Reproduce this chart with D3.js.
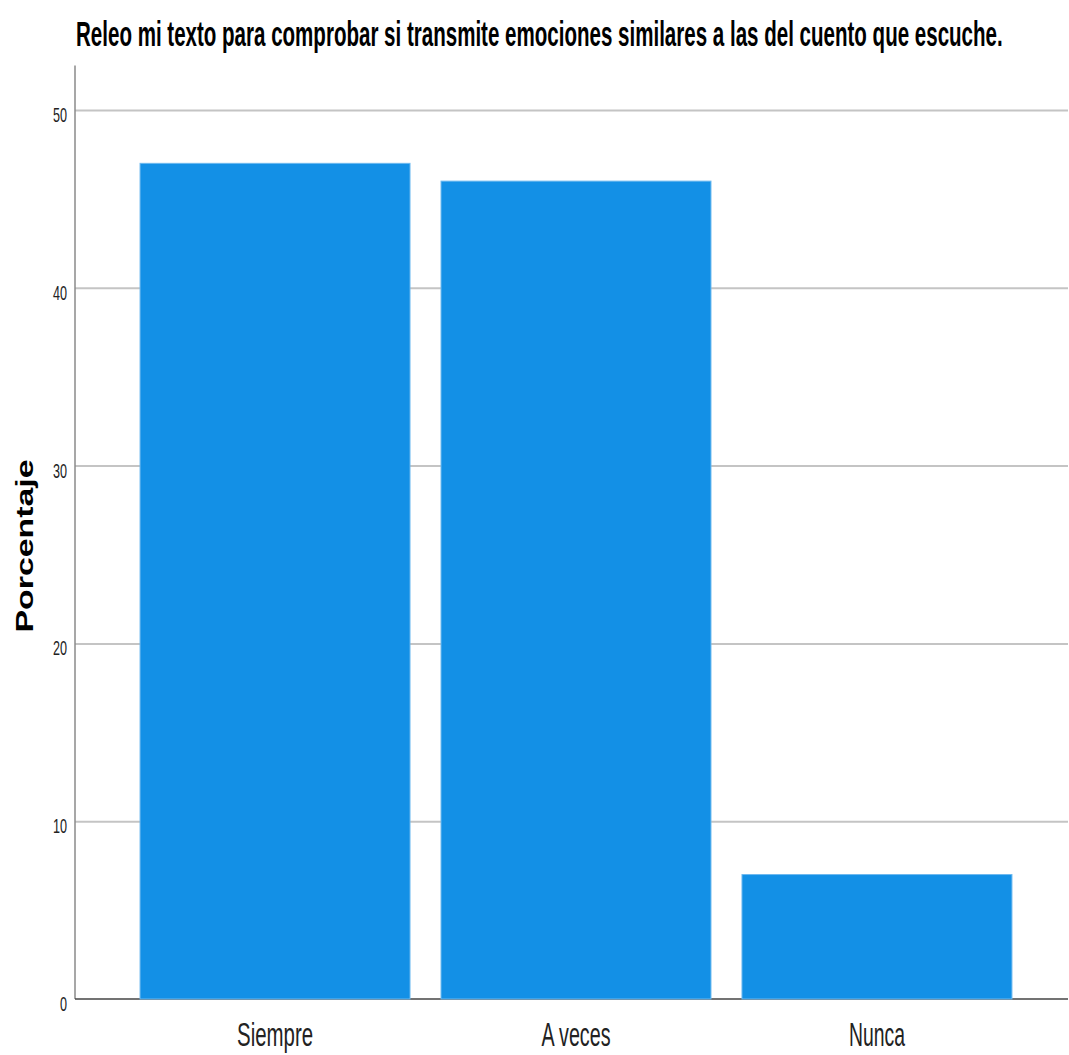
<!DOCTYPE html>
<html>
<head>
<meta charset="utf-8">
<script src="https://cdn.jsdelivr.net/npm/d3@7"></script>
<style>
  html, body { margin: 0; padding: 0; background: #fff; }
  svg { display: block; }
</style>
</head>
<body>
<svg id="chart" width="1069" height="1055"></svg>
<script>
const titleText = "Releo mi texto para comprobar si transmite emociones similares a las del cuento que escuche.";
const yLabel = "Porcentaje";
const categories = ["Siempre", "A veces", "Nunca"];
const values = [47, 46, 7];
const yTicks = [0, 10, 20, 30, 40, 50];

const svg = d3.select("#chart");
const axisX = 75, rightX = 1068, baseY = 999;

const y = d3.scaleLinear().domain([0, 50]).range([baseY, 110]);
const x = d3.scaleBand().domain(categories).range([125, 1027]).paddingInner(0.103).paddingOuter(0.05);

const narrow = "'Liberation Sans Narrow', 'Arial Narrow', 'Liberation Sans', Arial, sans-serif";

// gridlines
const grid = svg.append("g")
  .attr("transform", `translate(${axisX},0)`)
  .call(d3.axisLeft(y).tickValues(yTicks.filter(d => d > 0)).tickSize(-(rightX - axisX)).tickFormat(""));
grid.select(".domain").remove();
grid.selectAll(".tick line").attr("stroke", "#c4c4c4").attr("stroke-width", 2);

// y axis line
svg.append("line")
  .attr("x1", axisX).attr("x2", axisX)
  .attr("y1", y(52.5)).attr("y2", baseY)
  .attr("stroke", "#8a8a8a").attr("stroke-width", 1.5);

// y tick labels
const yAxis = svg.append("g")
  .attr("transform", `translate(${axisX},0)`)
  .call(d3.axisLeft(y).tickValues(yTicks).tickSize(0).tickPadding(8).tickFormat(d3.format("d")));
yAxis.select(".domain").remove();
yAxis.selectAll(".tick text")
  .attr("font-family", narrow)
  .attr("font-size", 21)
  .attr("fill", "#222")
  .attr("dy", "0.55em")
  .attr("x", -8)
  .each(function(d) {
    const n = String(d).length;
    d3.select(this).attr("textLength", 7 * n).attr("lengthAdjust", "spacingAndGlyphs");
  });

// baseline axis
svg.append("line")
  .attr("x1", axisX).attr("x2", rightX)
  .attr("y1", baseY).attr("y2", baseY)
  .attr("stroke", "#444").attr("stroke-width", 1.5);

// bars
svg.append("g").selectAll("rect")
  .data(categories.map((c, i) => ({ c, v: values[i] })))
  .join("rect")
  .attr("x", d => x(d.c))
  .attr("width", x.bandwidth())
  .attr("y", d => y(d.v))
  .attr("height", d => y(0) - y(d.v))
  .attr("fill", "#1390e6")
  .attr("stroke", "#6db9ef")
  .attr("stroke-width", 1);

// x labels
const catWidths = { "Siempre": 76, "A veces": 69, "Nunca": 56 };
const xAxis = svg.append("g")
  .attr("transform", `translate(0,${baseY})`)
  .call(d3.axisBottom(x).tickSize(0).tickPadding(0));
xAxis.select(".domain").remove();
xAxis.selectAll(".tick text")
  .attr("font-family", narrow)
  .attr("font-size", 34)
  .attr("fill", "#222")
  .attr("dy", 0)
  .attr("y", 47)
  .attr("textLength", d => catWidths[d])
  .attr("lengthAdjust", "spacingAndGlyphs");

// title: rendered at a base size, then stretched to the reference box
const baseSize = 24;
const title = svg.append("text")
  .attr("x", 0).attr("y", 0)
  .attr("font-family", narrow)
  .attr("font-weight", "bold")
  .attr("font-size", baseSize)
  .attr("fill", "#000")
  .text(titleText);
const tw = title.node().getComputedTextLength();
title.attr("transform", `translate(76,46) scale(${927 / tw},${35 / baseSize})`);

// y label
svg.append("text")
  .attr("transform", "translate(33,546) rotate(-90)")
  .attr("text-anchor", "middle")
  .attr("font-family", "'Liberation Sans', Arial, sans-serif")
  .attr("font-weight", "bold")
  .attr("font-size", 23)
  .attr("fill", "#000")
  .attr("textLength", 173)
  .attr("lengthAdjust", "spacingAndGlyphs")
  .text(yLabel);
</script>
</body>
</html>
